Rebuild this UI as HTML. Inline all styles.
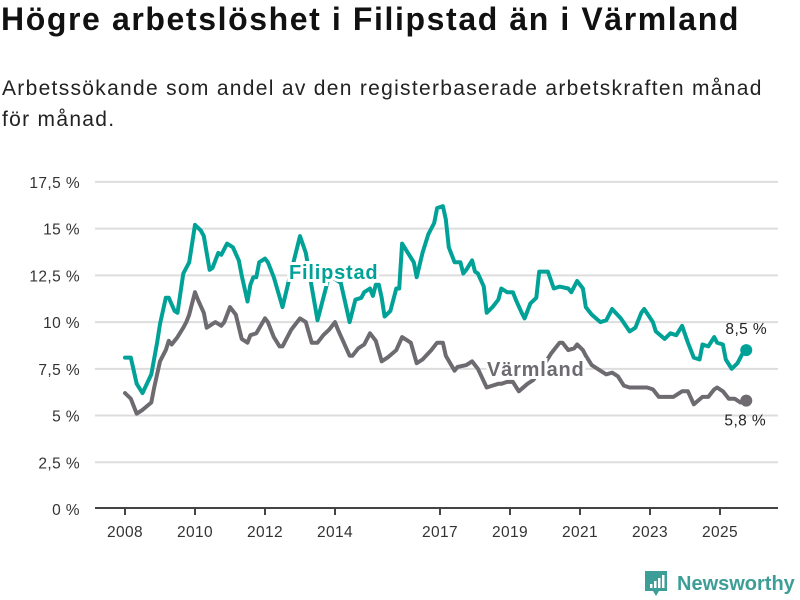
<!DOCTYPE html>
<html><head><meta charset="utf-8"><style>
body{margin:0;background:#fff;width:800px;height:600px;overflow:hidden;font-family:"Liberation Sans","DejaVu Sans",sans-serif}
.t{position:absolute;left:1px;top:1px;font-size:32px;font-weight:bold;color:#111;letter-spacing:1.6px;white-space:nowrap}
.s{position:absolute;left:2px;top:73px;font-size:21px;color:#222;line-height:31px;width:790px;letter-spacing:1.3px}
</style></head><body>
<div class="t">Högre arbetslöshet i Filipstad än i Värmland</div>
<div class="s">Arbetssökande som andel av den registerbaserade arbetskraften månad för månad.</div>
<svg id="c" width="800" height="600" style="position:absolute;left:0;top:0"></svg>
<script>
const yTicks=[0,2.5,5,7.5,10,12.5,15,17.5];
const yTickLabels=["0 %","2,5 %","5 %","7,5 %","10 %","12,5 %","15 %","17,5 %"];
const xTickYears=[2008,2010,2012,2014,2017,2019,2021,2023,2025];
const filMonths=[0,2,4,6,9,11,12,14,15,17,18,20,22,23,24,26,27,29,30,32,33,35,37,39,40,42,43,44,45,46,48,49,51,54,56,60,62,66,70,72,74,77,79,81,82,84,85,86,87,88,89,91,93,94,95,97,99,100,102,104,106,107,109,110,111,113,115,116,117,119,120,121,123,124,126,128,129,131,133,134,136,137,139,141,142,145,147,149,152,153,155,157,158,160,163,165,167,170,173,175,177,178,181,182,185,187,189,191,193,195,197,198,200,202,203,205,206,208,210,212,213];
const filValues=[8.1,8.1,6.7,6.2,7.2,8.9,9.9,11.3,11.3,10.6,10.5,12.6,13.2,14.2,15.2,14.9,14.6,12.8,12.9,13.7,13.6,14.2,14.0,13.3,12.5,11.1,12.0,12.4,12.4,13.2,13.4,13.2,12.4,10.8,12.1,14.6,13.7,10.1,12.5,12.3,12.1,10.0,11.2,11.3,11.6,11.8,11.4,12.0,12.0,11.3,10.3,10.6,11.8,11.8,14.2,13.7,13.2,12.4,13.7,14.7,15.3,16.1,16.2,15.5,14.0,13.2,13.2,12.6,12.8,13.3,12.7,12.6,11.9,10.5,10.8,11.2,11.8,11.6,11.6,11.2,10.5,10.2,11.0,11.3,12.7,12.7,11.8,11.9,11.8,11.6,12.2,11.8,10.8,10.4,10.0,10.1,10.7,10.2,9.5,9.7,10.5,10.7,10.0,9.5,9.1,9.4,9.3,9.8,8.9,8.1,8.0,8.8,8.7,9.2,8.9,8.8,8.0,7.5,7.8,8.4,8.5];
const varMonths=[0,2,4,6,9,10,12,14,15,16,18,20,21,22,24,25,27,28,31,33,34,36,38,40,42,43,45,48,49,51,53,54,57,60,62,64,66,68,70,72,73,75,77,78,80,82,84,86,88,90,93,95,98,100,102,105,107,109,110,113,114,117,119,120,121,124,126,128,129,131,133,135,138,140,144,146,149,150,152,154,155,157,158,160,163,165,167,169,171,173,175,177,179,181,183,188,191,193,195,198,200,202,203,205,207,209,211,213];
const varValues=[6.2,5.9,5.1,5.3,5.7,6.5,7.9,8.5,9.0,8.8,9.2,9.7,10.0,10.4,11.6,11.2,10.5,9.7,10.0,9.8,10.0,10.8,10.4,9.1,8.9,9.3,9.4,10.2,10.0,9.2,8.7,8.7,9.6,10.2,10.0,8.9,8.9,9.3,9.6,10.0,9.6,8.9,8.2,8.2,8.6,8.8,9.4,9.0,7.9,8.1,8.5,9.2,8.9,7.8,8.0,8.5,8.9,8.9,8.2,7.4,7.6,7.7,7.9,7.7,7.5,6.5,6.6,6.7,6.7,6.8,6.8,6.3,6.7,6.9,7.8,8.3,8.9,8.9,8.5,8.6,8.8,8.5,8.2,7.7,7.4,7.2,7.3,7.1,6.6,6.5,6.5,6.5,6.5,6.4,6.0,6.0,6.3,6.3,5.6,6.0,6.0,6.4,6.5,6.3,5.9,5.9,5.7,5.8];
const NS="http://www.w3.org/2000/svg";
const svg=document.getElementById('c');
const X=m=>125+m*35/12;
const Y=v=>509-v*18.69;
function mk(t,a,p){const e=document.createElementNS(NS,t);for(const k in a)e.setAttribute(k,a[k]);(p||svg).appendChild(e);return e;}
yTicks.forEach((v,i)=>{
 if(v>0){const g=mk('line',{x1:95,x2:778,y1:Y(v),y2:Y(v),stroke:'#ddd','stroke-width':2});
 
 }
 const t=mk('text',{x:80,y:Y(v)+6,'text-anchor':'end','font-size':15.5,fill:'#333','letter-spacing':0.4});t.textContent=yTickLabels[i];
 
 
});
const ax=mk('line',{x1:95,x2:778,y1:508,y2:508,stroke:'#444','stroke-width':2});


xTickYears.forEach(yr=>{
 const x=X((yr-2008)*12);
 mk('line',{x1:x,x2:x,y1:508,y2:515,stroke:'#444','stroke-width':2});
 const t=mk('text',{x:x,y:537,'text-anchor':'middle','font-size':15.5,fill:'#333','letter-spacing':0.4});t.textContent=yr;
 
 
});
function line(ms,vs,col,name){
 const d=ms.map((m,i)=>(i?'L':'M')+X(m).toFixed(1)+','+Y(vs[i]).toFixed(1)).join('');
 const p=mk('path',{d:d,fill:'none',stroke:col,'stroke-width':4,'stroke-linejoin':'round','stroke-linecap':'round'});
 
 
 const n=ms.length-1;
 const c=mk('circle',{cx:X(ms[n]),cy:Y(vs[n]),r:6,fill:col});
 
 
 return [X(ms[n]),Y(vs[n]),vs[n]];
}
const ev=line(varMonths,varValues,'#6d6a70','varmland');
const ef=line(filMonths,filValues,'#00a298','filipstad');
function lab(x,y,txt,col,name){const t=mk('text',{x:x,y:y,'font-size':20,'font-weight':'bold',fill:col,stroke:'#fff','stroke-width':6,'paint-order':'stroke','letter-spacing':0.8});t.textContent=txt;
 
 }
lab(289,279,'Filipstad','#00a298','filipstad-label');
lab(487,376,'Värmland','#6d6a70','varmland-label');
const f=v=>v.toFixed(1).replace('.',',')+' %';
let t=mk('text',{x:ef[0],y:ef[1]-16,'text-anchor':'middle','font-size':15.5,fill:'#222','letter-spacing':0.4});t.textContent=f(ef[2]);


t=mk('text',{x:ev[0]-1,y:ev[1]+25,'text-anchor':'middle','font-size':15.5,fill:'#222','letter-spacing':0.4});t.textContent=f(ev[2]);


const g=mk('g',{});


mk('path',{d:'M645 571h22v20h-8l-3 5-3-5h-8z',fill:'#3d9e97'},g);
mk('rect',{x:650,y:584,width:2.5,height:4,fill:'#fff'},g);
mk('rect',{x:654,y:581,width:2.5,height:7,fill:'#fff'},g);
mk('rect',{x:658,y:578,width:2.5,height:10,fill:'#fff'},g);
mk('rect',{x:662,y:575,width:2.5,height:13,fill:'#fff'},g);
const lt=mk('text',{x:677,y:590,'font-size':20,'font-weight':'bold',fill:'#3d9e97'},g);lt.textContent='Newsworthy';
</script>
</body></html>
